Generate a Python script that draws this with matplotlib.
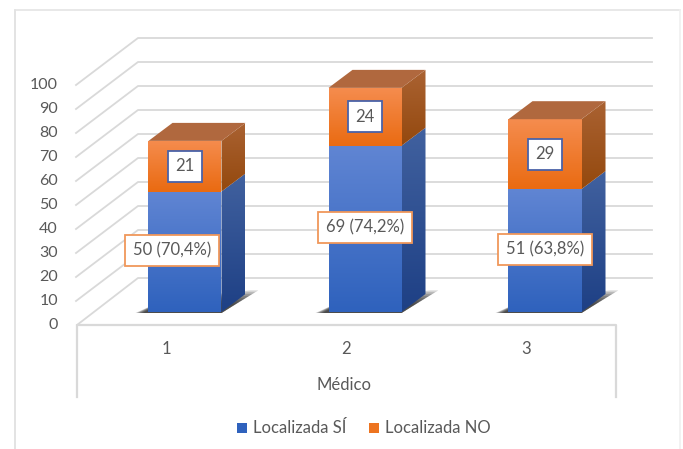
import numpy as np
import matplotlib
matplotlib.use("Agg")
import matplotlib.pyplot as plt
from matplotlib.patches import Polygon

W, H = 683, 449

# Data
medicos = [1, 2, 3]
localizada_si = [50, 69, 51]
localizada_no = [21, 24, 29]
etiquetas_si = ["50 (70,4%)", "69 (74,2%)", "51 (63,8%)"]
etiquetas_no = ["21", "24", "29"]
y_ticks = [0, 10, 20, 30, 40, 50, 60, 70, 80, 90, 100]

plt.rcParams['font.family'] = ['Lato', 'DejaVu Sans']
GREY = '#595959'
GRID = '#d9d9d9'

fig = plt.figure(figsize=(W/100, H/100), dpi=100)
ax = fig.add_axes([0, 0, 1, 1])

# pixel scale of the front plane of the bars
PX_X = 180.0   # px per category
PX_Y = 2.41    # px per unit
ax.axis('off')


# oblique projection, d = depth in bar depths
def proj(x, v, d=0.0):
    return x + d*24/PX_X, v + d*18/PX_Y


def px(x_px, y_px):
    return 1 + (x_px - 185)/PX_X, (312 - y_px)/PX_Y


def grad_poly(pts, c_top, c_bot, z):
    pts = np.array(pts)
    top = np.array(matplotlib.colors.to_rgb(c_top))
    bot = np.array(matplotlib.colors.to_rgb(c_bot))
    t = np.linspace(0, 1, 64)[:, None]
    img = (top*(1 - t) + bot*t)[:, None, :]
    ext = [pts[:, 0].min(), pts[:, 0].max(), pts[:, 1].min(), pts[:, 1].max()]
    im = ax.imshow(img, extent=ext, aspect='auto', origin='upper', zorder=z,
                   interpolation='bilinear')
    im.set_clip_path(Polygon(pts, transform=ax.transData))


# frame of the picture
fx, fy = px(15, 449)
ax.plot([fx, fx], [fy, px(0, 10)[1]], color='#dedede', lw=1.2, zorder=1)
ax.plot([fx, px(680, 0)[0]], [px(0, 10)[1]]*2, color='#e4e4e4', lw=1.2, zorder=1)
ax.plot([px(680, 0)[0]]*2, [fy, px(0, 10)[1]], color='#f0f0f0', lw=1.2, zorder=1)

# grid: diagonal on the side wall and straight on the back wall
x_front = px(77, 0)[0]
x_back = px(138, 0)[0]
x_end = px(652, 0)[0]
for v in y_ticks:
    yf = px(0, 325 - 2.4*v)[1]
    yb = px(0, 278 - 2.4*v)[1]
    xf = x_front if v == 0 else px(76, 0)[0]
    ax.plot([xf, x_back, x_end], [yf, yb, yb], color=GRID, lw=1.3, zorder=2)
    ax.text(*px(58, 325 - 2.4*v), str(v), ha='right', va='center', color=GREY,
            fontsize=11.5, zorder=8)

# floor front edge and category box
xr = px(616, 0)[0]
y0 = px(0, 325)[1]
y1 = px(0, 397)[1]
ax.plot([x_front, x_front, xr, xr], [y1, y0, y0, y1], color=GRID, lw=1.6, zorder=2)

# bars
hw = 36.5/PX_X
for i, m in enumerate(medicos):
    a = localizada_si[i]
    b = a + localizada_no[i]
    l, r = m - hw, m + hw

    # soft shadow on the floor, blurred with stacked layers
    for k in np.linspace(0.4, 1.0, 8):
        ax.add_patch(Polygon([
            (l - 13*k/PX_X, -1.0/PX_Y), (r, -1.0/PX_Y),
            proj(r + 8*k/PX_X, 0, 1.2*k),
            proj(r, 0, 1.2*k),
            proj(l, 0, 0.7)],
            closed=True, fc='#2a2a2a', ec='none', alpha=0.2, zorder=3))

    # base under the gradients so no seam shows at the join
    ax.add_patch(Polygon([(l, a - 1), (r, a - 1), (r, a + 1), (l, a + 1)],
                         closed=True, fc='#ea6b12', ec='none', zorder=4.5))

    for lo, hi, ft, fb, st, sb in [
            (0, a, '#6085d3', '#2f62bd', '#41619f', '#1e4085'),
            (a, b, '#f58c4e', '#ea6b12', '#aa6232', '#94490e')]:
        grad_poly([(l, lo), (r, lo), (r, hi), (l, hi)], ft, fb, 5)
        grad_poly([proj(r, lo), proj(r, lo, 1), proj(r, hi, 1), proj(r, hi)], st, sb, 4)

    # top cap
    ax.add_patch(Polygon([proj(l, b), proj(r, b), proj(r, b, 1), proj(l, b, 1)],
                         closed=True, fc='#b0683e', ec='none', zorder=5))

    # data labels
    ax.text(m - 13/PX_X if i == 0 else m, a/2 + 0.5,
            etiquetas_si[i], ha='center', va='center', color=GREY, fontsize=12, zorder=7,
            bbox=dict(boxstyle='square,pad=0.45', fc='white', ec='#f0975a', lw=1.3))
    ax.text(m, a + localizada_no[i]/2, etiquetas_no[i], ha='center', va='center',
            color=GREY, fontsize=12, zorder=7,
            bbox=dict(boxstyle='square,pad=0.45', fc='white', ec='#4a62a8', lw=1.3))

    ax.text(*px(166 + 180*i, 349), str(m), ha='center', va='center', color=GREY,
            fontsize=12)

# axis title
ax.text(*px(344, 385), 'Médico', ha='center', va='center', color=GREY, fontsize=12)

# legend
for x_sq, col, txt in [(237, '#2f62bd', 'Localizada SÍ'), (369, '#ed7420', 'Localizada NO')]:
    ax.add_patch(Polygon([px(x_sq, 423), px(x_sq + 10, 423), px(x_sq + 10, 433), px(x_sq, 433)],
                         closed=True, fc=col, ec='none'))
    ax.text(*px(x_sq + 16, 428), txt, ha='left', va='center', color=GREY, fontsize=12)

ax.set_xlim(1 - 185/PX_X, 1 + (W - 185)/PX_X)
ax.set_ylim((312 - H)/PX_Y, 312/PX_Y)
fig.savefig('out.png', dpi=100)
